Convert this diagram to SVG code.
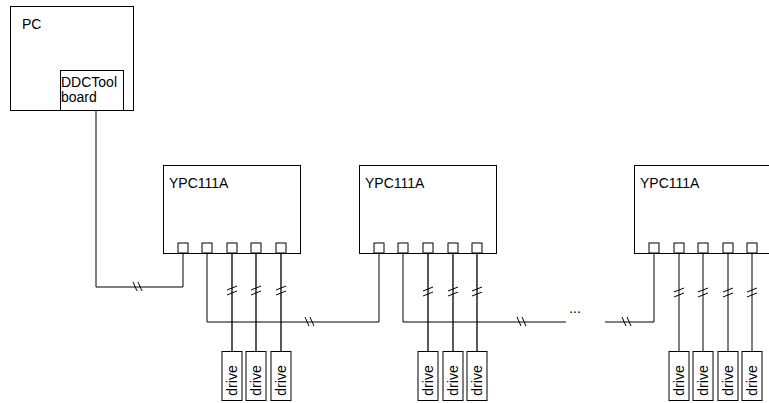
<svg xmlns="http://www.w3.org/2000/svg" width="769" height="403" viewBox="0 0 769 403">
<defs>
<style>
.box{fill:#fff;stroke:#000;stroke-width:1}
.port{fill:#fff;stroke:#000;stroke-width:1}
.ln{fill:none;stroke:#000;stroke-width:1}
.dl{fill:none;stroke:#000;stroke-width:1.3}
.t{font-family:"Liberation Sans",Arial,sans-serif;font-size:14px;fill:#000}
</style>
<g id="port"><rect class="port" x="-5" y="-10" width="10" height="10"/></g>
<g id="vbrk"><path class="ln" d="M-5,-1 L5,-5 M-5,4 L5,0"/></g>
<g id="hbrk"><path class="ln" d="M-5,-5 L-1,4 M0,-5 L4,4"/></g>
<g id="drive"><rect class="box" x="-10" y="0" width="20" height="49"/><text class="t" transform="translate(5,29) rotate(-90)" text-anchor="middle">drive</text></g>
</defs>

<g id="connectors">
<path class="ln" d="M96,111 V287 H183 V253"/>
<path class="ln" d="M207,253 V322 H379 V253"/>
<path class="ln" d="M403,253 V322 H566"/>
<path class="ln" d="M605,322 H654 V253"/>
<path class="dl" d="M232,253 V351 M256,253 V351 M281,253 V351"/>
<path class="dl" d="M428,253 V351 M453,253 V351 M477,253 V351"/>
<path class="ln" d="M679,253 V351 M703,253 V351 M728,253 V351 M752,253 V351"/>
<use href="#hbrk" x="138" y="287"/>
<use href="#hbrk" x="310" y="322"/>
<use href="#hbrk" x="522" y="322"/>
<use href="#hbrk" x="627" y="322"/>
<use href="#vbrk" x="232" y="291"/>
<use href="#vbrk" x="256" y="291"/>
<use href="#vbrk" x="281" y="291"/>
<use href="#vbrk" x="428" y="292"/>
<use href="#vbrk" x="453" y="292"/>
<use href="#vbrk" x="477" y="292"/>
<use href="#vbrk" x="679" y="293"/>
<use href="#vbrk" x="703" y="293"/>
<use href="#vbrk" x="728" y="293"/>
<use href="#vbrk" x="752" y="293"/>
<text class="t" x="575" y="313" text-anchor="middle">...</text>
</g>

<g id="pc">
<rect class="box" x="10.5" y="6.5" width="123" height="104"/>
<text class="t" x="22" y="29">PC</text>
</g>
<g id="board">
<rect class="box" x="60.5" y="70.5" width="63" height="40"/>
<text class="t" x="61" y="87">DDCTool</text>
<text class="t" x="61" y="102">board</text>
</g>

<g id="ypc1">
<rect class="box" x="163.5" y="165.5" width="137" height="88"/>
<text class="t" x="169" y="188">YPC111A</text>
<use href="#port" x="183" y="253"/><use href="#port" x="207" y="253"/><use href="#port" x="232" y="253"/><use href="#port" x="256" y="253"/><use href="#port" x="281" y="253"/>
</g>
<g id="ypc2">
<rect class="box" x="359.5" y="165.5" width="137" height="88"/>
<text class="t" x="365" y="188">YPC111A</text>
<use href="#port" x="379" y="253"/><use href="#port" x="403" y="253"/><use href="#port" x="428" y="253"/><use href="#port" x="453" y="253"/><use href="#port" x="477" y="253"/>
</g>
<g id="ypc3">
<rect class="box" x="634.5" y="165.5" width="150" height="88"/>
<text class="t" x="640" y="188">YPC111A</text>
<use href="#port" x="654" y="253"/><use href="#port" x="679" y="253"/><use href="#port" x="703" y="253"/><use href="#port" x="728" y="253"/><use href="#port" x="752" y="253"/>
</g>

<g id="drives1">
<use href="#drive" x="232" y="351.5"/><use href="#drive" x="256" y="351.5"/><use href="#drive" x="281" y="351.5"/>
</g>
<g id="drives2">
<use href="#drive" x="428" y="351.5"/><use href="#drive" x="453" y="351.5"/><use href="#drive" x="477" y="351.5"/>
</g>
<g id="drives3">
<use href="#drive" x="679" y="351.5"/><use href="#drive" x="703" y="351.5"/><use href="#drive" x="728" y="351.5"/><use href="#drive" x="752" y="351.5"/>
</g>
</svg>
